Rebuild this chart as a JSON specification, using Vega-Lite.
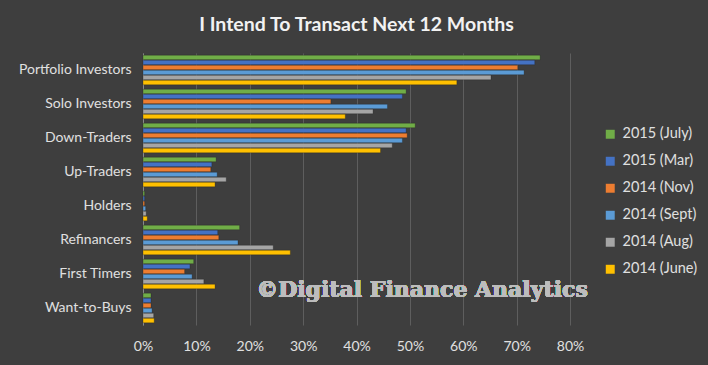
{
  "$schema": "https://vega.github.io/schema/vega-lite/v6.json",
  "autosize": {"type": "none"},
  "padding": {"left": 143, "top": 53, "right": 138, "bottom": 40},
  "width": 427,
  "height": 272,
  "background": "#3e3e3e",
  "title": {
    "text": "I Intend To Transact  Next 12 Months",
    "font": "Lato",
    "fontSize": 19.5,
    "fontWeight": "bold",
    "color": "#f2f2f2",
    "anchor": "middle",
    "offset": 18
  },
  "config": {
    "view": {"stroke": null},
    "font": "Lato"
  },
  "data": {
    "values": [
      {"cat": "Portfolio Investors", "series": "2015 (July)", "v": 74.4},
      {"cat": "Portfolio Investors", "series": "2015 (Mar)", "v": 73.4},
      {"cat": "Portfolio Investors", "series": "2014 (Nov)", "v": 70.2},
      {"cat": "Portfolio Investors", "series": "2014 (Sept)", "v": 71.4},
      {"cat": "Portfolio Investors", "series": "2014 (Aug)", "v": 65.2},
      {"cat": "Portfolio Investors", "series": "2014 (June)", "v": 58.8},
      {"cat": "Solo Investors", "series": "2015 (July)", "v": 49.3},
      {"cat": "Solo Investors", "series": "2015 (Mar)", "v": 48.6},
      {"cat": "Solo Investors", "series": "2014 (Nov)", "v": 35.2},
      {"cat": "Solo Investors", "series": "2014 (Sept)", "v": 45.8},
      {"cat": "Solo Investors", "series": "2014 (Aug)", "v": 43.1},
      {"cat": "Solo Investors", "series": "2014 (June)", "v": 37.9},
      {"cat": "Down-Traders", "series": "2015 (July)", "v": 51.0},
      {"cat": "Down-Traders", "series": "2015 (Mar)", "v": 49.3},
      {"cat": "Down-Traders", "series": "2014 (Nov)", "v": 49.5},
      {"cat": "Down-Traders", "series": "2014 (Sept)", "v": 48.6},
      {"cat": "Down-Traders", "series": "2014 (Aug)", "v": 46.7},
      {"cat": "Down-Traders", "series": "2014 (June)", "v": 44.5},
      {"cat": "Up-Traders", "series": "2015 (July)", "v": 13.7},
      {"cat": "Up-Traders", "series": "2015 (Mar)", "v": 12.9},
      {"cat": "Up-Traders", "series": "2014 (Nov)", "v": 12.7},
      {"cat": "Up-Traders", "series": "2014 (Sept)", "v": 13.9},
      {"cat": "Up-Traders", "series": "2014 (Aug)", "v": 15.6},
      {"cat": "Up-Traders", "series": "2014 (June)", "v": 13.5},
      {"cat": "Holders", "series": "2015 (July)", "v": 0.3},
      {"cat": "Holders", "series": "2015 (Mar)", "v": 0.3},
      {"cat": "Holders", "series": "2014 (Nov)", "v": 0.3},
      {"cat": "Holders", "series": "2014 (Sept)", "v": 0.5},
      {"cat": "Holders", "series": "2014 (Aug)", "v": 0.6},
      {"cat": "Holders", "series": "2014 (June)", "v": 0.8},
      {"cat": "Refinancers", "series": "2015 (July)", "v": 18.1},
      {"cat": "Refinancers", "series": "2015 (Mar)", "v": 14.0},
      {"cat": "Refinancers", "series": "2014 (Nov)", "v": 14.2},
      {"cat": "Refinancers", "series": "2014 (Sept)", "v": 17.8},
      {"cat": "Refinancers", "series": "2014 (Aug)", "v": 24.4},
      {"cat": "Refinancers", "series": "2014 (June)", "v": 27.6},
      {"cat": "First Timers", "series": "2015 (July)", "v": 9.5},
      {"cat": "First Timers", "series": "2015 (Mar)", "v": 8.8},
      {"cat": "First Timers", "series": "2014 (Nov)", "v": 7.8},
      {"cat": "First Timers", "series": "2014 (Sept)", "v": 9.2},
      {"cat": "First Timers", "series": "2014 (Aug)", "v": 11.4},
      {"cat": "First Timers", "series": "2014 (June)", "v": 13.5},
      {"cat": "Want-to-Buys", "series": "2015 (July)", "v": 1.5},
      {"cat": "Want-to-Buys", "series": "2015 (Mar)", "v": 1.5},
      {"cat": "Want-to-Buys", "series": "2014 (Nov)", "v": 1.5},
      {"cat": "Want-to-Buys", "series": "2014 (Sept)", "v": 1.7},
      {"cat": "Want-to-Buys", "series": "2014 (Aug)", "v": 2.0},
      {"cat": "Want-to-Buys", "series": "2014 (June)", "v": 2.1}
    ]
  },
  "layer": [
    {
      "mark": {"type": "bar", "stroke": "#1e1e1e", "strokeWidth": 0.5, "strokeOpacity": 0.6},
      "encoding": {
        "y": {
          "field": "cat",
          "type": "nominal",
          "sort": ["Portfolio Investors", "Solo Investors", "Down-Traders", "Up-Traders", "Holders", "Refinancers", "First Timers", "Want-to-Buys"],
          "scale": {"paddingInner": 0.13, "paddingOuter": 0.065},
          "axis": {
            "title": null,
            "ticks": false,
            "labelPadding": 12,
            "labelFontSize": 14,
            "labelColor": "#e0e0e0",
            "domainColor": "#8a8a8a",
            "labelFont": "Lato"
          }
        },
        "yOffset": {
          "field": "series",
          "type": "nominal",
          "sort": ["2015 (July)", "2015 (Mar)", "2014 (Nov)", "2014 (Sept)", "2014 (Aug)", "2014 (June)"],
          "scale": {"paddingInner": 0.1}
        },
        "x": {
          "field": "v",
          "type": "quantitative",
          "scale": {"domain": [0, 80]},
          "axis": {
            "title": null,
            "values": [0, 10, 20, 30, 40, 50, 60, 70, 80],
            "labelExpr": "datum.value + '%'",
            "labelFlush": false,
            "ticks": false,
            "domain": false,
            "labelPadding": 14,
            "labelFontSize": 14,
            "labelColor": "#e0e0e0",
            "gridColor": "#5e5e5e",
            "labelFont": "Lato"
          }
        },
        "color": {
          "field": "series",
          "type": "nominal",
          "sort": ["2015 (July)", "2015 (Mar)", "2014 (Nov)", "2014 (Sept)", "2014 (Aug)", "2014 (June)"],
          "scale": {
            "domain": ["2015 (July)", "2015 (Mar)", "2014 (Nov)", "2014 (Sept)", "2014 (Aug)", "2014 (June)"],
            "range": ["#70ad47", "#4472c4", "#ed7d31", "#5b9bd5", "#a5a5a5", "#ffc000"]
          },
          "legend": {
            "title": null,
            "orient": "none",
            "legendX": 460,
            "legendY": 74,
            "symbolType": "square",
            "symbolSize": 80,
            "symbolStrokeWidth": 0,
            "labelFontSize": 14.5,
            "labelColor": "#e0e0e0",
            "labelFont": "Lato",
            "rowPadding": 12,
            "labelOffset": 5
          }
        }
      }
    },
    {
      "mark": {
        "type": "text",
        "align": "left",
        "baseline": "middle",
        "font": "DejaVu Serif",
        "fontWeight": "bold",
        "fontSize": 22,
        "color": "#bdbdbd",
        "dy": 16
      },
      "encoding": {
        "x": {"datum": 21.2},
        "y": {"datum": "First Timers"},
        "text": {"value": "©Digital Finance Analytics"}
      }
    }
  ]
}
